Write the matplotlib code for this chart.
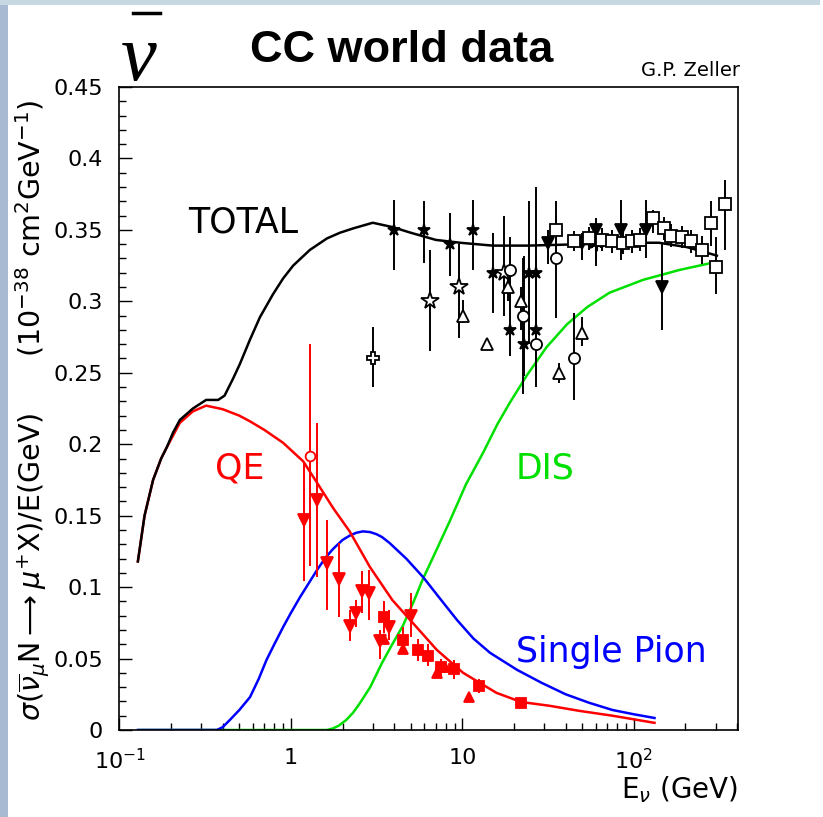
import matplotlib
matplotlib.use("Agg")
import matplotlib.pyplot as plt
from matplotlib.lines import Line2D
from matplotlib.patches import Rectangle
from matplotlib.ticker import FixedLocator, FixedFormatter, MultipleLocator, LogLocator, NullFormatter

plt.rcParams["font.family"] = ["DejaVu Sans"]
plt.rcParams["mathtext.fontset"] = "dejavusans"

# ---- theory curves (E in GeV, sigma/E in 1e-38 cm^2/GeV) ----
tot_e = [0.128, 0.14, 0.157, 0.175, 0.189, 0.205, 0.225, 0.268, 0.32, 0.376, 0.41, 0.46,
         0.503, 0.576, 0.66, 0.786, 0.9, 1.03, 1.29, 1.62, 1.93, 2.3, 3.0, 3.9, 5.0, 7.0,
         9.7, 15, 24, 50, 117, 140, 203, 250, 305]
tot_y = [0.118, 0.150, 0.175, 0.190, 0.198, 0.208, 0.217, 0.225, 0.231, 0.231, 0.234, 0.246,
         0.256, 0.273, 0.289, 0.305, 0.316, 0.325, 0.336, 0.344, 0.348, 0.351, 0.355, 0.352,
         0.348, 0.343, 0.341, 0.339, 0.339, 0.340, 0.341, 0.341, 0.338, 0.335, 0.332]

qe_e = [0.128, 0.14, 0.157, 0.175, 0.189, 0.225, 0.268, 0.32, 0.4, 0.5, 0.577, 0.7, 0.9,
        1.18, 1.42, 1.77, 2.2, 2.89, 3.9, 5.4, 7.1, 10.1, 15.8, 22, 32, 48.6, 75, 132]
qe_y = [0.118, 0.150, 0.175, 0.190, 0.198, 0.215, 0.223, 0.227, 0.2245, 0.220, 0.216, 0.210,
        0.201, 0.188, 0.173, 0.155, 0.139, 0.114, 0.091, 0.072, 0.056, 0.040, 0.026, 0.0196,
        0.0170, 0.0133, 0.0100, 0.005]

pi_e = [0.128, 0.37, 0.40, 0.44, 0.5, 0.577, 0.65, 0.72, 0.8, 0.9, 1.0, 1.13, 1.42, 1.6,
        1.77, 2.0, 2.2, 2.4, 2.63, 2.9, 3.16, 3.4, 3.75, 4.7, 5.9, 7.4, 9.3, 11.6, 14.5,
        20.9, 29, 40, 55, 75, 100, 132]
pi_y = [0.0, 0.0, 0.002, 0.007, 0.014, 0.023, 0.036, 0.049, 0.060, 0.072, 0.082, 0.093,
        0.112, 0.121, 0.127, 0.133, 0.136, 0.138, 0.139, 0.1385, 0.137, 0.135, 0.131, 0.120,
        0.107, 0.092, 0.077, 0.064, 0.054, 0.042, 0.033, 0.025, 0.019, 0.014, 0.011, 0.0084]

dis_e = [0.13, 1.62, 1.75, 1.9, 2.1, 2.3, 2.5, 2.9, 3.4, 3.9, 4.5, 5.2, 5.9, 7.0, 8.5, 10.5,
         13.2, 16, 18.9, 23.7, 31, 40.8, 53.5, 72, 113, 185, 300]
dis_y = [0.0, 0.0, 0.001, 0.003, 0.007, 0.012, 0.018, 0.030, 0.047, 0.060, 0.073, 0.090,
         0.106, 0.125, 0.147, 0.172, 0.194, 0.214, 0.229, 0.248, 0.268, 0.284, 0.296, 0.306,
         0.315, 0.322, 0.3275]

# ---- data points: energy, value, lower end of error bar, upper end ----
cross_e, cross_y, cross_lo, cross_hi = [3.0], [0.26], [0.24], [0.282]

star_e = [4.0, 6.0, 8.5, 11.6, 15.0, 19.0, 23.0, 24.6, 26.7, 27.0]
star_y = [0.350, 0.350, 0.340, 0.350, 0.320, 0.280, 0.270, 0.320, 0.320, 0.280]
star_lo = [0.322, 0.327, 0.318, 0.322, 0.292, 0.262, 0.248, 0.270, 0.250, 0.250]
star_hi = [0.371, 0.370, 0.362, 0.371, 0.348, 0.305, 0.332, 0.370, 0.380, 0.330]

ostar_e = [6.5, 9.5, 17.5]
ostar_y = [0.300, 0.310, 0.320]
ostar_lo = [0.265, 0.274, 0.290]
ostar_hi = [0.336, 0.340, 0.360]

circ_e = [19.0, 22.5, 27.0, 35.0, 45.0]
circ_y = [0.322, 0.290, 0.270, 0.330, 0.260]
circ_lo = [0.300, 0.235, 0.240, 0.288, 0.231]
circ_hi = [0.345, 0.330, 0.300, 0.370, 0.292]

otri_e = [10.1, 14.0, 18.4, 22.0, 36.6, 50.0]
otri_y = [0.290, 0.270, 0.310, 0.300, 0.250, 0.278]
otri_lo = [0.285, 0.266, 0.300, 0.280, 0.243, 0.269]
otri_hi = [0.301, 0.274, 0.317, 0.310, 0.257, 0.289]

dtri_e = [31.5, 50.0, 60.0, 84.0, 118.0, 145.0]
dtri_y = [0.341, 0.341, 0.350, 0.350, 0.350, 0.310]
dtri_lo = [0.326, 0.329, 0.329, 0.329, 0.330, 0.280]
dtri_hi = [0.350, 0.348, 0.358, 0.371, 0.371, 0.341]

ast_e, ast_y, ast_lo, ast_hi = [60.0], [0.341], [0.325], [0.355]

sq_e = [35, 45, 55, 65, 75, 87, 97, 108, 130, 150, 165, 190, 215, 250, 280, 300, 340]
sq_y = [0.350, 0.342, 0.344, 0.343, 0.342, 0.341, 0.342, 0.343, 0.358, 0.351, 0.346,
        0.345, 0.342, 0.336, 0.355, 0.324, 0.368]
sq_lo = [0.340, 0.335, 0.336, 0.335, 0.334, 0.333, 0.334, 0.335, 0.348, 0.343, 0.338,
         0.337, 0.334, 0.326, 0.339, 0.305, 0.336]
sq_hi = [0.360, 0.349, 0.352, 0.351, 0.350, 0.349, 0.350, 0.351, 0.364, 0.359, 0.354,
         0.353, 0.350, 0.346, 0.370, 0.345, 0.385]

# QE data (red)
rcirc_e, rcirc_y, rcirc_lo, rcirc_hi = [1.3], [0.192], [0.115], [0.270]

rdtri_e = [1.19, 1.42, 1.62, 1.9, 2.2, 2.4, 2.6, 2.85, 3.3, 3.75, 5.0]
rdtri_y = [0.147, 0.161, 0.117, 0.106, 0.073, 0.082, 0.097, 0.096, 0.062, 0.072, 0.080]
rdtri_lo = [0.104, 0.107, 0.084, 0.079, 0.062, 0.072, 0.082, 0.077, 0.050, 0.063, 0.065]
rdtri_hi = [0.187, 0.215, 0.147, 0.131, 0.084, 0.091, 0.111, 0.112, 0.070, 0.084, 0.096]

rsq_e = [3.5, 4.5, 5.5, 6.3, 7.5, 8.9, 12.5, 22.0]
rsq_y = [0.079, 0.063, 0.056, 0.052, 0.044, 0.043, 0.031, 0.019]
rsq_lo = [0.068, 0.054, 0.048, 0.045, 0.038, 0.036, 0.026, 0.016]
rsq_hi = [0.090, 0.072, 0.064, 0.060, 0.050, 0.049, 0.036, 0.022]

rutri_e = [3.5, 4.5, 7.1, 7.9, 10.9]
rutri_y = [0.064, 0.057, 0.040, 0.044, 0.023]

RED, GREEN, BLUE = "#ff0000", "#00e000", "#0000ff"

fig = plt.figure(figsize=(8.23, 8.17), dpi=100)
fig.add_artist(Rectangle((0, 0), 8 / 823, 1, transform=fig.transFigure,
                         color="#a7bad2", lw=0, zorder=0))
fig.add_artist(Rectangle((0, 1 - 5 / 817), 820 / 823, 5 / 817, transform=fig.transFigure,
                         color="#c8d8e2", lw=0, zorder=0))

ax = fig.add_axes([0.1452, 0.1065, 0.7515, 0.787])
ax.set_xscale("log")
ax.set_xlim(0.1, 405)
ax.set_ylim(0, 0.45)

ax.plot(dis_e, dis_y, color=GREEN, lw=1.8, zorder=2)
ax.plot(pi_e, pi_y, color=BLUE, lw=1.8, zorder=2)
ax.plot(qe_e, qe_y, color=RED, lw=1.8, zorder=2)
ax.plot(tot_e, tot_y, color="black", lw=1.8, zorder=3)


def pts(e, y, lo, hi, col, marker, ms, mfc, mew=1.3):
    if lo is not None:
        ax.errorbar(e, y, yerr=[[a - b for a, b in zip(y, lo)], [b - a for a, b in zip(y, hi)]],
                    fmt="none", ecolor=col, elinewidth=1.4, capsize=0, zorder=4)
    ax.plot(e, y, ls="none", marker=marker, ms=ms, mfc=mfc, mec=col, mew=mew, zorder=5)


pts(cross_e, cross_y, cross_lo, cross_hi, "black", "P", 8, "white")
pts(star_e, star_y, star_lo, star_hi, "black", "*", 9, "black")
pts(ostar_e, ostar_y, ostar_lo, ostar_hi, "black", "*", 13, "white")
pts(circ_e, circ_y, circ_lo, circ_hi, "black", "o", 8, "white")
pts(otri_e, otri_y, otri_lo, otri_hi, "black", "^", 9, "white")
pts(dtri_e, dtri_y, dtri_lo, dtri_hi, "black", "v", 9, "black")
pts(ast_e, ast_y, ast_lo, ast_hi, "black", (6, 2, 0), 11, "black", mew=2.2)
pts(sq_e, sq_y, sq_lo, sq_hi, "black", "s", 8.5, "white")

pts(rcirc_e, rcirc_y, rcirc_lo, rcirc_hi, RED, "o", 7, "white")
pts(rdtri_e, rdtri_y, rdtri_lo, rdtri_hi, RED, "v", 8, RED)
pts(rsq_e, rsq_y, rsq_lo, rsq_hi, RED, "s", 7.5, RED)
pts(rutri_e, rutri_y, None, None, RED, "^", 7.5, RED)

# curve labels
ax.text(0.2507, 0.3485, "TOTAL", color="black", fontsize=25, va="baseline")
ax.text(0.3605, 0.1763, "QE", color=RED, fontsize=25, va="baseline")
ax.text(20.5, 0.1763, "DIS", color=GREEN, fontsize=25, va="baseline")
ax.text(20.5, 0.0476, "Single Pion", color=BLUE, fontsize=25, va="baseline")

# axes styling
for s in ax.spines.values():
    s.set_linewidth(1.2)
ax.yaxis.set_major_locator(FixedLocator([0, 0.05, 0.1, 0.15, 0.2, 0.25, 0.3, 0.35, 0.4, 0.45]))
ax.yaxis.set_major_formatter(FixedFormatter(["0", "0.05", "0.1", "0.15", "0.2", "0.25",
                                             "0.3", "0.35", "0.4", "0.45"]))
ax.yaxis.set_minor_locator(MultipleLocator(0.01))
ax.xaxis.set_major_locator(FixedLocator([0.1, 1, 10, 100]))
ax.xaxis.set_major_formatter(FixedFormatter([r"$10^{-1}$", "1", "10", r"$10^{2}$"]))
ax.xaxis.set_minor_locator(LogLocator(base=10, subs=[2, 3, 4, 5, 6, 7, 8, 9], numticks=20))
ax.xaxis.set_minor_formatter(NullFormatter())
ax.tick_params(which="both", direction="in", top=False, right=False, width=1.0)
ax.tick_params(which="major", length=9)
ax.tick_params(which="minor", length=4.7)
ax.tick_params(axis="y", which="major", labelsize=16, pad=12)
ax.tick_params(axis="x", which="major", labelsize=16, pad=13)

# titles and axis labels
fig.text(0.4885, 1 - 62 / 817, "CC world data", fontsize=32.5, fontweight="bold",
         family="Liberation Sans", ha="center", va="baseline")
fig.text(139 / 823, 1 - 80 / 817, "ν", fontsize=58, family="Liberation Serif",
         style="italic", ha="center", va="baseline")
fig.add_artist(Line2D([133 / 823, 160 / 823], [1 - 13 / 817, 1 - 13 / 817],
                      transform=fig.transFigure, color="black", lw=2.5))
fig.text(740 / 823, 1 - 76 / 817, "G.P. Zeller", fontsize=14, ha="right", va="baseline")
fig.text(738 / 823, 1 - 798 / 817, r"E$_{\nu}$ (GeV)", fontsize=20, ha="right", va="baseline")
fig.text(33 / 823, 1 - 410 / 817,
         r"$\sigma(\overline{\nu}_{\mu}\mathrm{N}\longrightarrow\mu^{+}\mathrm{X})/\mathrm{E(GeV)}$"
         r"$\quad\ \ \ (10^{-38}\ \mathrm{cm}^{2}\mathrm{GeV}^{-1})$",
         fontsize=20.5, rotation=90, ha="center", va="center")

fig.savefig("out.png", dpi=100)
